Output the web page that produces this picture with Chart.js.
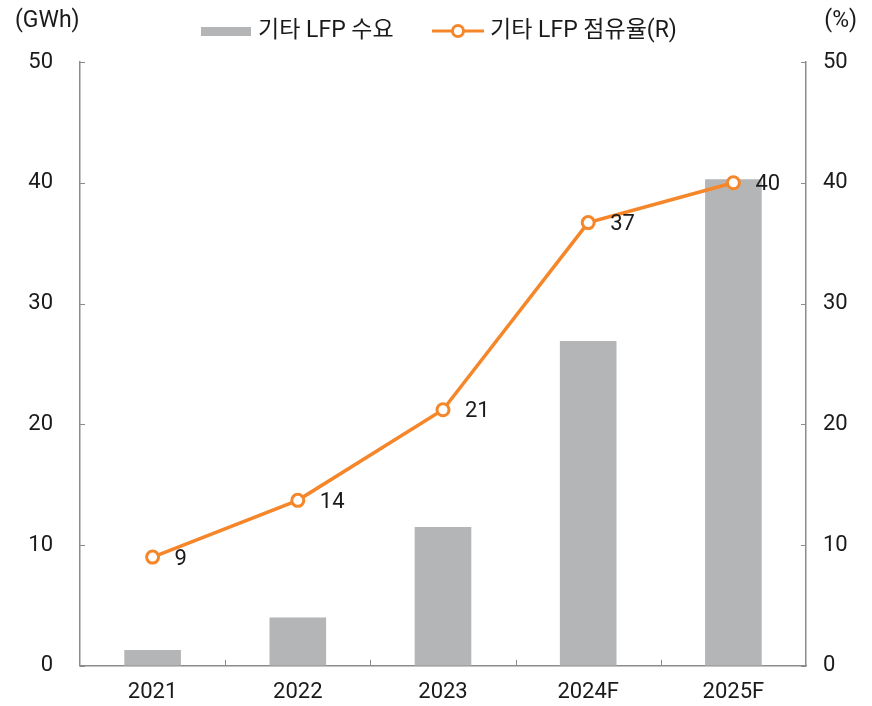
<!DOCTYPE html>
<html>
<head>
<meta charset="utf-8">
<script src="https://cdn.jsdelivr.net/npm/chart.js@4"></script>
<style>
  html, body { margin: 0; padding: 0; background: #fff; }
  #wrap { width: 872px; height: 706px; }
</style>
</head>
<body>
<div id="wrap"><canvas id="lfpChart" width="872" height="706"></canvas></div>
<script>
"use strict";

// 기타 LFP 수요 / 점유율

const years = ["2021", "2022", "2023", "2024F", "2025F"];
const demandGWh = [1.3, 4.0, 11.5, 26.9, 40.3];
const sharePct = [9.0, 13.7, 21.2, 36.7, 40.0];
const shareLabels = ["9", "14", "21", "37", "40"];
const axisTicks = [0, 10, 20, 30, 40, 50];

const FONT = "Roboto, 'Noto Sans CJK KR', sans-serif";
const GRAY = "#b4b5b7";
const ORANGE = "#f5872a";
const AXIS = "#8c8c8c";

// legend, unit labels, inner ticks, point labels
const extras = {
    id: "extras",
    afterDraw(chart) {
        let c = chart.ctx;
        let xs = chart.scales.x;
        let yl = chart.scales.y;
        let area = chart.chartArea;
        c.save();

        // inward ticks
        c.strokeStyle = AXIS;
        c.lineWidth = 1;
        c.beginPath();
        axisTicks.forEach(function(v) {
            let py = Math.round(yl.getPixelForValue(v)) + 0.5;
            c.moveTo(area.left, py); c.lineTo(area.left + 5, py);
            c.moveTo(area.right, py); c.lineTo(area.right - 5, py);
        });
        for (let i = 1; i < years.length; i++) {
            let px = Math.round((xs.getPixelForValue(i - 1) + xs.getPixelForValue(i)) / 2) + 0.5;
            c.moveTo(px, area.bottom); c.lineTo(px, area.bottom - 6);
        }
        c.stroke();

        c.fillStyle = "#1a1a1a";
        c.textBaseline = "middle";

        // point labels
        c.font = "22px " + FONT;
        let meta = chart.getDatasetMeta(0);
        c.textAlign = "left";
        meta.data.forEach(function(pt, i) {
            c.fillText(shareLabels[i], pt.x + 22, pt.y + 2);
        });

        // unit labels
        c.font = "23px " + FONT;
        c.textAlign = "left";
        c.fillText("(GWh)", 15, 21);
        c.textAlign = "right";
        c.fillText("(%)", 857, 21);

        // legend
        c.textAlign = "left";
        c.fillStyle = GRAY;
        c.fillRect(201, 27, 50, 9);
        c.fillStyle = "#1a1a1a";
        c.fillText("기타 LFP 수요", 258, 31);

        c.strokeStyle = ORANGE;
        c.lineWidth = 3;
        c.beginPath();
        c.moveTo(432, 31); c.lineTo(484, 31);
        c.stroke();
        c.beginPath();
        c.arc(458, 31, 5.5, 0, Math.PI * 2);
        c.fillStyle = "#fff";
        c.fill();
        c.stroke();
        c.fillStyle = "#1a1a1a";
        c.fillText("기타 LFP 점유율(R)", 490, 31);

        c.restore();
    }
};

let ctx = document.getElementById("lfpChart").getContext("2d");

let lfpChart = new Chart(ctx, {
    type: "bar",
    data: {
        labels: years,
        datasets: [
            {
                type: "line",
                label: "기타 LFP 점유율(R)",
                data: sharePct,
                yAxisID: "y2",
                borderColor: ORANGE,
                borderWidth: 3.5,
                backgroundColor: "#fff",
                pointBackgroundColor: "#fff",
                pointBorderColor: ORANGE,
                pointBorderWidth: 3,
                pointRadius: 6,
                tension: 0,
                order: 0
            },
            {
                type: "bar",
                label: "기타 LFP 수요",
                data: demandGWh,
                yAxisID: "y",
                backgroundColor: GRAY,
                barPercentage: 0.39,
                categoryPercentage: 1,
                order: 1
            }
        ]
    },
    options: {
        responsive: false,
        animation: false,
        layout: { padding: { top: 62, left: 0, right: 0, bottom: 0 } },
        plugins: {
            legend: { display: false },
            title: { display: false },
            tooltip: { enabled: false }
        },
        scales: {
            x: {
                grid: { display: false, drawTicks: false },
                border: { color: AXIS, width: 1.5 },
                ticks: { color: "#1a1a1a", font: { family: FONT, size: 22 }, padding: 13 },
                afterFit: function(s) { s.height = 40; }
            },
            y: {
                position: "left",
                min: 0, max: 50,
                grid: { display: false, drawTicks: false },
                border: { color: AXIS, width: 1.5 },
                ticks: { stepSize: 10, color: "#1a1a1a", font: { family: FONT, size: 22 }, padding: 27 },
                afterFit: function(s) { s.width = 80; }
            },
            y2: {
                position: "right",
                min: 0, max: 50,
                grid: { display: false, drawTicks: false },
                border: { color: AXIS, width: 1.5 },
                ticks: { stepSize: 10, color: "#1a1a1a", font: { family: FONT, size: 22 }, padding: 17 },
                afterFit: function(s) { s.width = 66; }
            }
        }
    },
    plugins: [extras]
});
</script>
</body>
</html>
